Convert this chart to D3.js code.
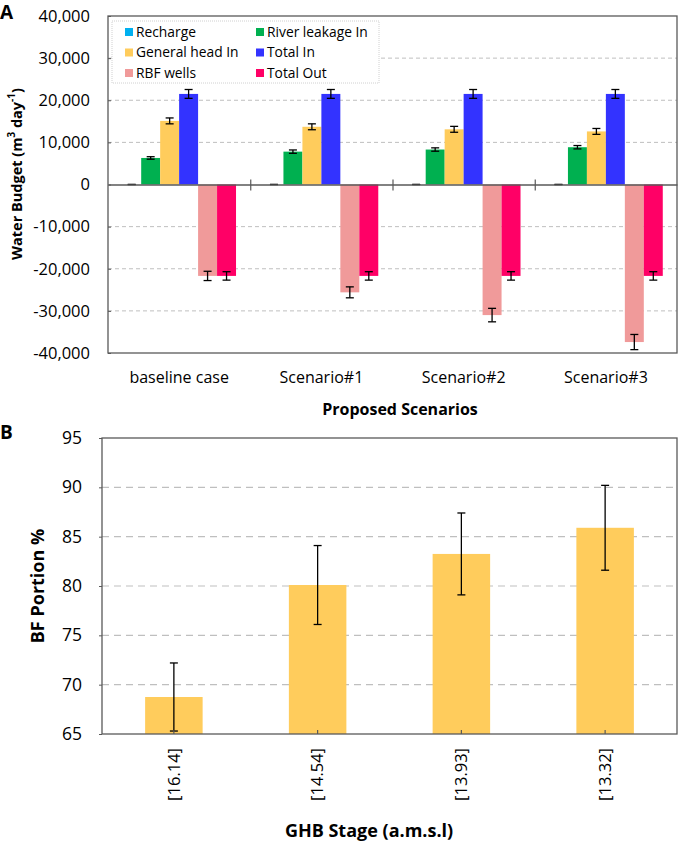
<!DOCTYPE html>
<html>
<head>
    <title>Water Budget and BF Portion</title>
    <script src="https://d3js.org/d3.v7.min.js"></script>
    <style>
        body { margin: 0; background: #fff; }
        svg text { font-family: "Open Sans", "Noto Sans", sans-serif; fill: #000; }
    </style>
</head>
<body>
    <div id="chart"></div>

    <script>
        // Panel A data: water budget per scenario (m3/day)
        const scenarios = ["baseline case", "Scenario#1", "Scenario#2", "Scenario#3"];
        const seriesNames = ["Recharge", "River leakage In", "General head In", "Total In", "RBF wells", "Total Out"];
        const seriesColors = ["#00B0F0", "#00B050", "#FFCC5C", "#3333FF", "#F09A9A", "#FF0066"];
        const recharge = [0, 0, 0, 0];
        const riverLeakage = [6300, 7800, 8300, 8850];
        const generalHead = [15100, 13700, 13100, 12600];
        const totalIn = [21500, 21500, 21500, 21500];
        const rbfWells = [-21700, -25600, -31000, -37400];
        const totalOut = [-21700, -21700, -21700, -21700];
        const rechargeErr = [0, 0, 0, 0];
        const riverLeakageErr = [300, 400, 400, 400];
        const generalHeadErr = [700, 700, 700, 700];
        const totalInErr = [1050, 1050, 1050, 1050];
        const rbfWellsErr = [1100, 1300, 1600, 1800];
        const totalOutErr = [1000, 1000, 1000, 1000];
        const budgetTicks = [-40000, -30000, -20000, -10000, 0, 10000, 20000, 30000, 40000];

        // Panel B data: BF portion per GHB stage
        const ghbStages = ["[16.14]", "[14.54]", "[13.93]", "[13.32]"];
        const bfPortion = [68.75, 80.1, 83.25, 85.9];
        const bfErr = [3.45, 4.0, 4.15, 4.3];
        const bfTicks = [65, 70, 75, 80, 85, 90, 95];

        const seriesValues = [recharge, riverLeakage, generalHead, totalIn, rbfWells, totalOut];
        const seriesErrs = [rechargeErr, riverLeakageErr, generalHeadErr, totalInErr, rbfWellsErr, totalOutErr];

        const W = 678, H = 841;
        const frameColor = "#595959";
        const gridColor = "#BFBFBF";

        const svg = d3.select("#chart")
            .append("svg")
            .attr("width", W)
            .attr("height", H);

        const fmt = d3.formatLocale({ decimal: ".", thousands: ",", grouping: [3], currency: ["", ""], minus: "-" }).format(",");

        // ---------------- Panel A ----------------
        const a = { left: 108, right: 677, top: 16, bottom: 353 };

        const x0 = d3.scaleBand()
            .domain(scenarios)
            .range([a.left, a.right])
            .padding(0);

        const x1 = d3.scaleBand()
            .domain(seriesNames)
            .range([x0.bandwidth() * 0.1, x0.bandwidth() * 0.9])
            .padding(0);

        const yA = d3.scaleLinear()
            .domain([-40000, 40000])
            .range([a.bottom, a.top]);

        // gridlines
        svg.append("g")
            .selectAll("line")
            .data(budgetTicks.filter(d => d !== 0 && Math.abs(d) !== 40000))
            .enter().append("line")
            .attr("x1", a.left)
            .attr("x2", a.right)
            .attr("y1", d => yA(d))
            .attr("y2", d => yA(d))
            .attr("stroke", gridColor)
            .attr("stroke-width", 1)
            .attr("stroke-dasharray", "4,3");

        // y axis
        const yAxisA = svg.append("g")
            .attr("transform", `translate(${a.left},0)`)
            .call(d3.axisLeft(yA).tickValues(budgetTicks).tickFormat(fmt).tickSize(-3).tickPadding(18));
        yAxisA.select(".domain").remove();
        yAxisA.selectAll(".tick line").attr("stroke", frameColor);
        yAxisA.selectAll("text").attr("font-size", 16.5);

        // bars
        const rows = scenarios.map((s, i) => ({
            scenario: s,
            values: seriesNames.map((n, j) => ({ name: n, value: seriesValues[j][i], err: seriesErrs[j][i], color: seriesColors[j] }))
        }));

        const groups = svg.append("g")
            .selectAll("g")
            .data(rows)
            .enter().append("g")
            .attr("transform", d => `translate(${x0(d.scenario)},0)`);

        groups.selectAll("rect")
            .data(d => d.values)
            .enter().append("rect")
            .attr("x", d => x1(d.name))
            .attr("width", x1.bandwidth())
            .attr("y", d => yA(Math.max(0, d.value)))
            .attr("height", d => Math.abs(yA(d.value) - yA(0)))
            .attr("fill", d => d.color);

        // error bars
        const errA = groups.selectAll("g.err")
            .data(d => d.values)
            .enter().append("g")
            .attr("class", "err")
            .attr("stroke", "#000")
            .attr("stroke-width", 1.3);
        errA.append("line")
            .attr("x1", d => x1(d.name) + x1.bandwidth() / 2)
            .attr("x2", d => x1(d.name) + x1.bandwidth() / 2)
            .attr("y1", d => yA(d.value - d.err))
            .attr("y2", d => yA(d.value + d.err));
        errA.selectAll("line.cap")
            .data(d => [{ d, v: d.value - d.err }, { d, v: d.value + d.err }])
            .enter().append("line")
            .attr("class", "cap")
            .attr("x1", e => x1(e.d.name) + x1.bandwidth() / 2 - 4)
            .attr("x2", e => x1(e.d.name) + x1.bandwidth() / 2 + 4)
            .attr("y1", e => yA(e.v))
            .attr("y2", e => yA(e.v));

        // zero axis with category separator ticks
        const xEdge = d3.scaleLinear().domain([0, scenarios.length]).range([a.left, a.right]);
        const zeroAxis = svg.append("g")
            .attr("transform", `translate(0,${yA(0)})`)
            .call(d3.axisBottom(xEdge).tickValues([1, 2, 3]).tickFormat("").tickSizeOuter(0).tickSizeInner(6));
        zeroAxis.select(".domain").attr("stroke", frameColor).attr("stroke-width", 1.3);
        zeroAxis.selectAll(".tick line").attr("y1", -5).attr("stroke", frameColor).attr("stroke-width", 1.2);

        // category labels
        const xAxisA = svg.append("g")
            .attr("transform", `translate(0,${a.bottom})`)
            .call(d3.axisBottom(x0).tickSize(0).tickPadding(19));
        xAxisA.select(".domain").remove();
        xAxisA.selectAll("text").attr("font-size", 16);

        // frame
        svg.append("rect")
            .attr("x", a.left).attr("y", a.top)
            .attr("width", a.right - a.left).attr("height", a.bottom - a.top)
            .attr("fill", "none").attr("stroke", frameColor).attr("stroke-width", 1.3);

        // legend
        const legend = svg.append("g");
        legend.append("rect")
            .attr("x", 112).attr("y", 21)
            .attr("width", 267).attr("height", 62)
            .attr("fill", "#fff")
            .attr("stroke", "#D0D0D0")
            .attr("stroke-dasharray", "1,1");
        seriesNames.forEach((name, k) => {
            const col = k % 2, row = Math.floor(k / 2);
            const lx = col === 0 ? 125 : 256;
            const ly = 32 + row * 20.5;
            legend.append("rect")
                .attr("x", lx).attr("y", ly - 4)
                .attr("width", 8).attr("height", 8)
                .attr("fill", seriesColors[k]);
            legend.append("text")
                .attr("x", lx + 11).attr("y", ly)
                .attr("dy", "0.35em")
                .attr("font-size", 13.8)
                .text(name);
        });

        // axis titles
        const yTitleA = svg.append("text")
            .attr("transform", `translate(17,174) rotate(-90)`)
            .attr("text-anchor", "middle")
            .attr("dy", "0.35em")
            .attr("font-size", 14.5)
            .attr("font-weight", "bold");
        yTitleA.append("tspan").text("Water Budget (m");
        yTitleA.append("tspan").attr("baseline-shift", "super").attr("font-size", 10).text("3");
        yTitleA.append("tspan").text(" day");
        yTitleA.append("tspan").attr("baseline-shift", "super").attr("font-size", 10).text("-1");
        yTitleA.append("tspan").text(")");

        svg.append("text")
            .attr("x", 400).attr("y", 409)
            .attr("dy", "0.35em")
            .attr("text-anchor", "middle")
            .attr("font-size", 16)
            .attr("font-weight", "bold")
            .text("Proposed Scenarios");

        svg.append("text")
            .attr("x", 0).attr("y", 19)
            .attr("font-size", 19)
            .attr("font-weight", "bold")
            .text("A");

        // ---------------- Panel B ----------------
        const b = { left: 102, right: 677, top: 438, bottom: 734 };

        const xB = d3.scaleBand()
            .domain(ghbStages)
            .range([b.left, b.right])
            .paddingInner(0.6)
            .paddingOuter(0.3);

        const yB = d3.scaleLinear()
            .domain([65, 95])
            .range([b.bottom, b.top]);

        svg.append("g")
            .selectAll("line")
            .data(bfTicks.filter(d => d !== 65 && d !== 95))
            .enter().append("line")
            .attr("x1", b.left)
            .attr("x2", b.right)
            .attr("y1", d => yB(d))
            .attr("y2", d => yB(d))
            .attr("stroke", gridColor)
            .attr("stroke-width", 1.2)
            .attr("stroke-dasharray", "7,5");

        const yAxisB = svg.append("g")
            .attr("transform", `translate(${b.left},0)`)
            .call(d3.axisLeft(yB).tickValues(bfTicks).tickSize(3).tickPadding(17));
        yAxisB.select(".domain").remove();
        yAxisB.selectAll(".tick line").attr("stroke", frameColor);
        yAxisB.selectAll("text").attr("font-size", 17.5);

        svg.append("g")
            .selectAll("rect")
            .data(bfPortion)
            .enter().append("rect")
            .attr("x", (d, i) => xB(ghbStages[i]))
            .attr("width", xB.bandwidth())
            .attr("y", d => yB(d))
            .attr("height", d => yB(65) - yB(d))
            .attr("fill", "#FFCC5C");

        const errB = svg.append("g")
            .attr("stroke", "#000")
            .attr("stroke-width", 1.3)
            .selectAll("g")
            .data(bfPortion)
            .enter().append("g");
        errB.append("line")
            .attr("x1", (d, i) => xB(ghbStages[i]) + xB.bandwidth() / 2)
            .attr("x2", (d, i) => xB(ghbStages[i]) + xB.bandwidth() / 2)
            .attr("y1", (d, i) => yB(d - bfErr[i]))
            .attr("y2", (d, i) => yB(d + bfErr[i]));
        [-1, 1].forEach(s => {
            errB.append("line")
                .attr("x1", (d, i) => xB(ghbStages[i]) + xB.bandwidth() / 2 - 4)
                .attr("x2", (d, i) => xB(ghbStages[i]) + xB.bandwidth() / 2 + 4)
                .attr("y1", (d, i) => yB(d + s * bfErr[i]))
                .attr("y2", (d, i) => yB(d + s * bfErr[i]));
        });

        // x axis with rotated stage labels
        const xAxisB = svg.append("g")
            .attr("transform", `translate(0,${b.bottom})`)
            .call(d3.axisBottom(xB).tickSize(-4).tickPadding(0));
        xAxisB.select(".domain").remove();
        xAxisB.selectAll(".tick line").attr("stroke", frameColor).attr("stroke-width", 1.2);
        xAxisB.selectAll("text")
            .attr("font-size", 16.5)
            .attr("text-anchor", "end")
            .attr("dy", "0.35em")
            .attr("transform", "translate(0,14) rotate(-90)");

        svg.append("rect")
            .attr("x", b.left).attr("y", b.top)
            .attr("width", b.right - b.left).attr("height", b.bottom - b.top)
            .attr("fill", "none").attr("stroke", frameColor).attr("stroke-width", 1.3);

        svg.append("text")
            .attr("transform", `translate(38,${(b.top + b.bottom) / 2}) rotate(-90)`)
            .attr("text-anchor", "middle")
            .attr("dy", "0.35em")
            .attr("font-size", 18)
            .attr("font-weight", "bold")
            .text("BF Portion %");

        svg.append("text")
            .attr("x", 369).attr("y", 831)
            .attr("dy", "0.35em")
            .attr("text-anchor", "middle")
            .attr("font-size", 18)
            .attr("font-weight", "bold")
            .text("GHB Stage (a.m.s.l)");

        svg.append("text")
            .attr("x", 0).attr("y", 439)
            .attr("font-size", 19)
            .attr("font-weight", "bold")
            .text("B");
    </script>
</body>
</html>
